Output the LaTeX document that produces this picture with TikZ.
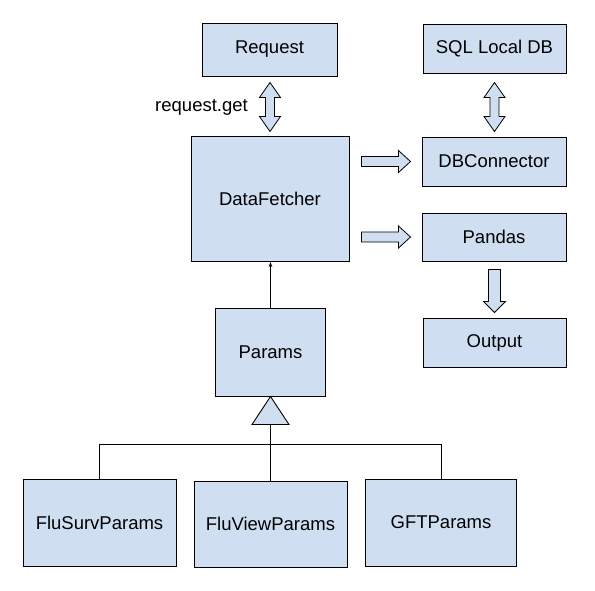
\documentclass[tikz,border=0pt]{standalone}
\usepackage{fontspec}
\setmainfont{Liberation Sans}
\usetikzlibrary{calc,arrows.meta}
\definecolor{boxfill}{HTML}{CFDFF1}
\begin{document}
\begin{tikzpicture}[x=1pt,y=-1pt,
  box/.style={draw=black,line width=1pt,fill=boxfill,rectangle,inner sep=0pt,
    font=\fontsize{18.5}{22}\selectfont},
  blk/.style={draw=black,line width=0.8pt,fill=boxfill,line join=miter},
  conn/.style={draw=black,line width=0.9pt}]
\useasboundingbox (0,0) rectangle (595,590);
\fill[white] (0,0) rectangle (595,590);
% nodes
\node[box,minimum width=135pt,minimum height=53pt] (req) at (269.5,49.5) {Request};
\node[box,minimum width=143pt,minimum height=49pt] (sql) at (494.5,48.5) {SQL Local DB};
\node[box,minimum width=158pt,minimum height=125pt] (df) at (270,199) {DataFetcher};
\node[box,minimum width=144pt,minimum height=49pt] (dbc) at (494,161.5) {DBConnector};
\node[box,minimum width=144pt,minimum height=48pt] (pan) at (494,237) {Pandas};
\node[box,minimum width=143pt,minimum height=49pt] (out) at (494.5,342.5) {Output};
\node[box,minimum width=110pt,minimum height=88pt] (par) at (270.5,352) {Params};
\node[box,minimum width=153pt,minimum height=87pt] (fs) at (99.5,522.5) {FluSurvParams};
\node[box,minimum width=153pt,minimum height=86pt] (fv) at (270.5,524) {FluViewParams};
\node[box,minimum width=151pt,minimum height=87pt] (gft) at (441,522.5) {GFTParams};
\node[anchor=east,inner sep=0pt,font=\fontsize{18.5}{22}\selectfont] (lbl) at (248,107) {request.get};
% block arrows
\draw[blk] ($(req.south)+(0.5,6)$) -- ++(10.5,15) -- ++(-6,0) -- ++(0,19) -- ++(6,0)
  -- ++(-10.5,15) -- ++(-10.5,-15) -- ++(6,0) -- ++(0,-19) -- ++(-6,0) -- cycle;
\draw[blk] ($(sql.south)+(0,9)$) -- ++(10.5,15) -- ++(-6,0) -- ++(0,19) -- ++(6,0)
  -- ++(-10.5,15) -- ++(-10.5,-15) -- ++(6,0) -- ++(0,-19) -- ++(-6,0) -- cycle;
\draw[blk] ($(dbc.west)+(-60,-5)$) -- ++(37,0) -- ++(0,-6) -- ++(12,11) -- ++(-12,11)
  -- ++(0,-6) -- ++(-37,0) -- cycle;
\draw[blk] ($(pan.west)+(-60,-5)$) -- ++(37,0) -- ++(0,-6) -- ++(12,11) -- ++(-12,11)
  -- ++(0,-6) -- ++(-37,0) -- cycle;
\draw[blk] ($(pan.south)+(-5.5,8)$) -- ++(12,0) -- ++(0,32) -- ++(5,0) -- ++(-11,11)
  -- ++(-11,-11) -- ++(5,0) -- cycle;
% association arrow
\draw[conn,-{Stealth[length=5pt,width=3.5pt]}] (par.north) -- (par.north |- df.south);
% inheritance
\coordinate (tb) at ($(par.south)+(0,28)$);
\draw[blk,line width=0.9pt] (par.south) -- ++(18.5,28) -- ++(-37,0) -- cycle;
\coordinate (bar) at ($(tb)+(0,20)$);
\draw[conn] (tb) -- (fv.north);
\draw[conn] (fs.north) |- (bar) -| (gft.north);
\end{tikzpicture}
\end{document}
